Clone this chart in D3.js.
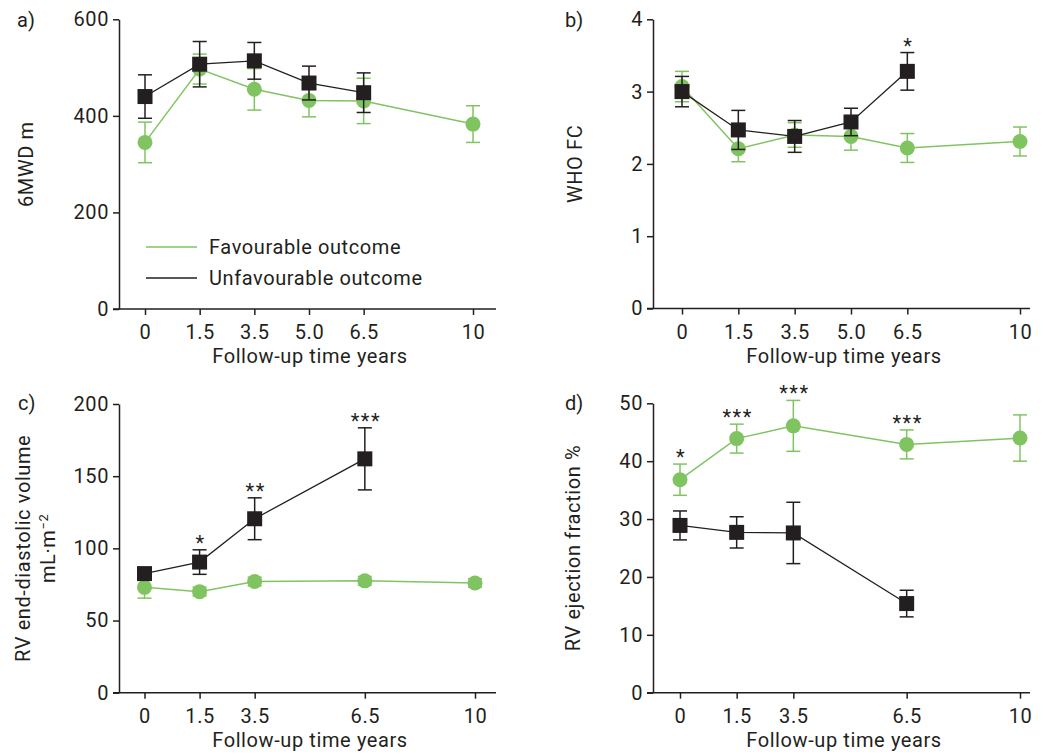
<!DOCTYPE html>
<html><head><meta charset="utf-8">
<script src="https://cdn.jsdelivr.net/npm/d3@7"></script>
<style>
body{margin:0;background:#fff;}
svg text{font-family:Roboto,"DejaVu Sans",sans-serif;fill:#231f20;}
</style></head><body>
<svg id="chart" width="1043" height="754"></svg>
<script>
// ---- data ----
const xLabelsAB = ["0","1.5","3.5","5.0","6.5","10"];
const xSlotsAB  = [0,1,2,3,4,6];
const xLabelsCD = ["0","1.5","3.5","6.5","10"];
const xSlotsCD  = [0,1,2,4,6];

const aFav    = [345,497,455,432,431,383];
const aFavErr = [42,31,43,34,47,38];
const aUnf    = [440,507,514,468,448];
const aUnfErr = [45,47,38,35,41];
const aStars  = [];
const aYTicks = [0,200,400,600];

const bFav    = [3.07,2.21,2.40,2.38,2.22,2.31];
const bFavErr = [0.21,0.18,0.17,0.19,0.20,0.20];
const bUnf    = [3.00,2.47,2.38,2.58,3.28];
const bUnfErr = [0.21,0.27,0.22,0.19,0.26];
const bStars  = [null,null,null,null,"*"];
const bYTicks = [0,1,2,3,4];

const cFav    = [73,70,77,77.5,76];
const cFavErr = [7.5,3,3,3,3];
const cUnf    = [82.5,90.5,120.5,162];
const cUnfErr = [3,8.5,14.5,21.5];
const cStars  = [null,"*","**","***"];
const cYTicks = [0,50,100,150,200];

const dFav    = [36.8,43.9,46.1,42.9,44.0];
const dFavErr = [2.7,2.5,4.4,2.5,4.0];
const dUnf    = [28.9,27.7,27.6,15.4];
const dUnfErr = [2.5,2.7,5.3,2.3];
const dStars  = ["*","***","***","***"];
const dYTicks = [0,10,20,30,40,50];

const legendLabels = ["Favourable outcome","Unfavourable outcome"];
const xTitle = "Follow-up time years";

// ---- style ----
const GREEN = "#80c462", BLACK = "#231f20", TXT = "#2b2829", FS = 20, LS = "0.6px";

const svg = d3.select("#chart");

const panels = [
  {lab:"a)", slots:xSlotsAB, xl:xLabelsAB, fav:aFav, favE:aFavErr, unf:aUnf, unfE:aUnfErr, stars:aStars, yt:aYTicks,
   L:119, T:19.3, B:309, R:496, xr:[145,473], lx:17, ly:27, yTitle:["6MWD m"], ytx:[33], xtx:310, xty:363, legend:true},
  {lab:"b)", slots:xSlotsAB, xl:xLabelsAB, fav:bFav, favE:bFavErr, unf:bUnf, unfE:bUnfErr, stars:bStars, yt:bYTicks,
   L:653, T:19.3, B:308.5, R:1030, xr:[682,1020], lx:565, ly:27, yTitle:["WHO FC"], ytx:[582], xtx:844, xty:363},
  {lab:"c)", slots:xSlotsCD, xl:xLabelsCD, fav:cFav, favE:cFavErr, unf:cUnf, unfE:cUnfErr, stars:cStars, yt:cYTicks,
   L:119, T:404, B:692.7, R:496, xr:[144.5,475], lx:18, ly:410, yTitle:["RV end-diastolic volume","mL\u00b7m"], ytx:[30,55], xtx:310, xty:747},
  {lab:"d)", slots:xSlotsCD, xl:xLabelsCD, fav:dFav, favE:dFavErr, unf:dUnf, unfE:dUnfErr, stars:dStars, yt:dYTicks,
   L:653, T:403.3, B:692.7, R:1030, xr:[680,1020], lx:565, ly:410, yTitle:["RV ejection fraction %"], ytx:[580], xtx:844, xty:747}
];

panels.forEach(p => {
  const g = svg.append("g");
  const x = d3.scaleLinear().domain([0,6]).range(p.xr);
  const y = d3.scaleLinear().domain([0, d3.max(p.yt)]).range([p.B, p.T]);

  // y axis
  const ya = g.append("g").attr("transform",`translate(${p.L},0)`)
    .call(d3.axisLeft(y).tickValues(p.yt).tickFormat(d3.format("d")).tickSize(6).tickPadding(4).tickSizeOuter(0));
  // x axis
  const xa = g.append("g").attr("transform",`translate(0,${p.B})`)
    .call(d3.axisBottom(x).tickValues(p.slots).tickFormat((d,i)=>p.xl[i]).tickSize(6).tickPadding(10).tickSizeOuter(0));
  xa.select(".domain").remove();
  g.append("line").attr("x1",p.L-6).attr("x2",p.R).attr("y1",p.B).attr("y2",p.B)
    .attr("stroke",BLACK).attr("stroke-width",1.5);
  [ya,xa].forEach(a=>{
    a.selectAll("path,line").attr("stroke",BLACK).attr("stroke-width",1.5);
    a.selectAll("text").attr("font-size",FS).attr("font-family","Roboto").attr("fill",TXT).attr("letter-spacing",LS);
  });

  // panel label
  g.append("text").attr("x",p.lx).attr("y",p.ly).attr("font-size",FS).attr("fill",TXT).text(p.lab);

  // axis titles
  g.append("text").attr("x",p.xtx).attr("y",p.xty).attr("text-anchor","middle")
    .attr("font-size",FS).attr("letter-spacing",LS).attr("fill",TXT).text(xTitle);
  const yc = (p.T+p.B)/2;
  p.yTitle.forEach((t,i)=>{
    const tx = g.append("text").attr("transform",`translate(${p.ytx[i]},${yc}) rotate(-90)`)
      .attr("text-anchor","middle").attr("font-size",FS).attr("letter-spacing",LS).attr("fill",TXT).text(t);
    if (t.startsWith("mL")) {
      tx.append("tspan").attr("baseline-shift","super").attr("font-size",13).text("\u22122");
    }
  });

  const series = [
    {v:p.fav, e:p.favE, c:GREEN, w:1.5, shape:"circle"},
    {v:p.unf, e:p.unfE, c:BLACK, w:1.3, shape:"square"}
  ];
  series.forEach(s=>{
    const pts = s.v.map((v,i)=>({x:p.slots[i], v, e:s.e[i]}));
    // error bars
    const eb = g.append("g").attr("stroke",s.c).attr("stroke-width",1.5);
    pts.forEach(d=>{
      eb.append("line").attr("x1",x(d.x)).attr("x2",x(d.x)).attr("y1",y(d.v-d.e)).attr("y2",y(d.v+d.e));
      [d.v-d.e,d.v+d.e].forEach(vv=>{
        eb.append("line").attr("x1",x(d.x)-7).attr("x2",x(d.x)+7).attr("y1",y(vv)).attr("y2",y(vv));
      });
    });
    // line
    g.append("path").datum(pts).attr("fill","none").attr("stroke",s.c).attr("stroke-width",s.w)
      .attr("d",d3.line().x(d=>x(d.x)).y(d=>y(d.v)));
    // markers
    if (s.shape==="circle") {
      g.selectAll(null).data(pts).join("circle").attr("cx",d=>x(d.x)).attr("cy",d=>y(d.v)).attr("r",7.5).attr("fill",s.c);
    } else {
      g.selectAll(null).data(pts).join("rect").attr("x",d=>x(d.x)-7.5).attr("y",d=>y(d.v)-7.5)
        .attr("width",15).attr("height",15).attr("fill",s.c);
    }
  });

  // significance stars
  p.stars.forEach((s,i)=>{
    if (!s) return;
    const tops = [];
    if (p.fav[i]!=null) tops.push(p.fav[i]+p.favE[i]);
    if (p.unf[i]!=null) tops.push(p.unf[i]+p.unfE[i]);
    const yy = y(d3.max(tops)) - 11 + 0.55*FS;
    g.append("text").attr("x",x(p.slots[i])+1).attr("y",yy).attr("text-anchor","middle")
      .attr("font-size",FS).attr("letter-spacing","1.5px").attr("fill",TXT).text(s);
  });

  // legend
  if (p.legend) {
    const lg = g.append("g");
    [[GREEN,247],[BLACK,278]].forEach((c,i)=>{
      lg.append("line").attr("x1",146).attr("x2",197).attr("y1",c[1]).attr("y2",c[1])
        .attr("stroke",c[0]).attr("stroke-width",1.5);
      lg.append("text").attr("x",209).attr("y",c[1]+7).attr("font-size",FS).attr("letter-spacing",LS)
        .attr("fill",TXT).text(legendLabels[i]);
    });
  }
});
</script>
</body></html>
